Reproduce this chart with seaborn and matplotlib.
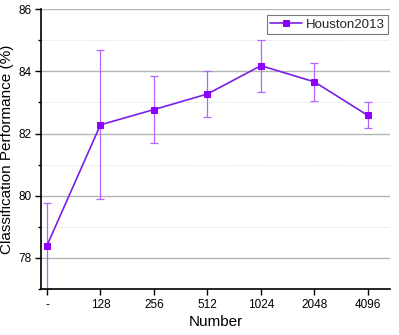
import numpy as np
import pandas as pd
import matplotlib
matplotlib.use('Agg')
import matplotlib.pyplot as plt
import seaborn as sns
from matplotlib.ticker import MultipleLocator

# data
numbers = ['-', '128', '256', '512', '1024', '2048', '4096']
accuracy = [78.40, 82.28, 82.77, 83.27, 84.18, 83.66, 82.58]
err_upper = [1.38, 2.40, 1.08, 0.74, 0.82, 0.61, 0.42]
err_lower = [1.40, 2.39, 1.07, 0.73, 0.84, 0.62, 0.39]

sns.set_theme(style="white")
plt.rcParams['font.family'] = ['Liberation Sans', 'DejaVu Sans']

df = pd.DataFrame({'pos': np.arange(len(numbers)), 'acc': accuracy})

fig = plt.figure(figsize=(3.99, 3.35), dpi=100)
ax = fig.add_axes([0.103, 0.137, 0.874, 0.836])

line_color = '#7a1fe6'
marker_color = '#8c00ff'

ax.errorbar(df['pos'], df['acc'], yerr=[err_lower, err_upper], fmt='none',
            ecolor='#b366ff', elinewidth=0.9, capsize=2.6, capthick=0.9, zorder=2)
sns.lineplot(data=df, x='pos', y='acc', ax=ax, color=line_color, linewidth=1.2,
             marker='s', markersize=4.8, markerfacecolor=marker_color,
             markeredgecolor=marker_color, label='Houston2013', zorder=3)

ax.set_xlim(-0.11, 6.41)
ax.set_ylim(77, 86)
ax.set_xticks(np.arange(len(numbers)))
ax.set_xticklabels(numbers)
ax.set_yticks([78, 80, 82, 84, 86])
ax.yaxis.set_minor_locator(MultipleLocator(1))

ax.grid(axis='y', which='major', color='#b4b4b4', linewidth=1.0, linestyle='-')
ax.grid(axis='y', which='minor', color='#d8d8d8', linewidth=0.7, linestyle=':')
ax.set_axisbelow(True)

for s in ['top', 'right']:
    ax.spines[s].set_visible(False)
for s in ['left', 'bottom']:
    ax.spines[s].set_color('black')
    ax.spines[s].set_linewidth(1.2)

ax.tick_params(axis='both', which='major', direction='out', length=4, width=1,
               color='black', labelsize=8.5, labelcolor='black', pad=3,
               left=True, bottom=True)
ax.tick_params(axis='y', which='minor', direction='out', length=2.5, width=1,
               color='black', left=True)

ax.set_xlabel('Number', fontsize=11, color='black', labelpad=3)
ax.set_ylabel('Classification Performance (%)', fontsize=11, color='black', labelpad=3)

leg = ax.legend(loc='upper right', fontsize=9.5, frameon=True, fancybox=False,
                edgecolor='#555555', borderpad=0.25, handlelength=2.4,
                handletextpad=0.3, markerscale=0.8, borderaxespad=0.15,
                bbox_to_anchor=(1.0, 0.985))
leg.get_frame().set_linewidth(0.8)

fig.savefig('out.png', dpi=100)
